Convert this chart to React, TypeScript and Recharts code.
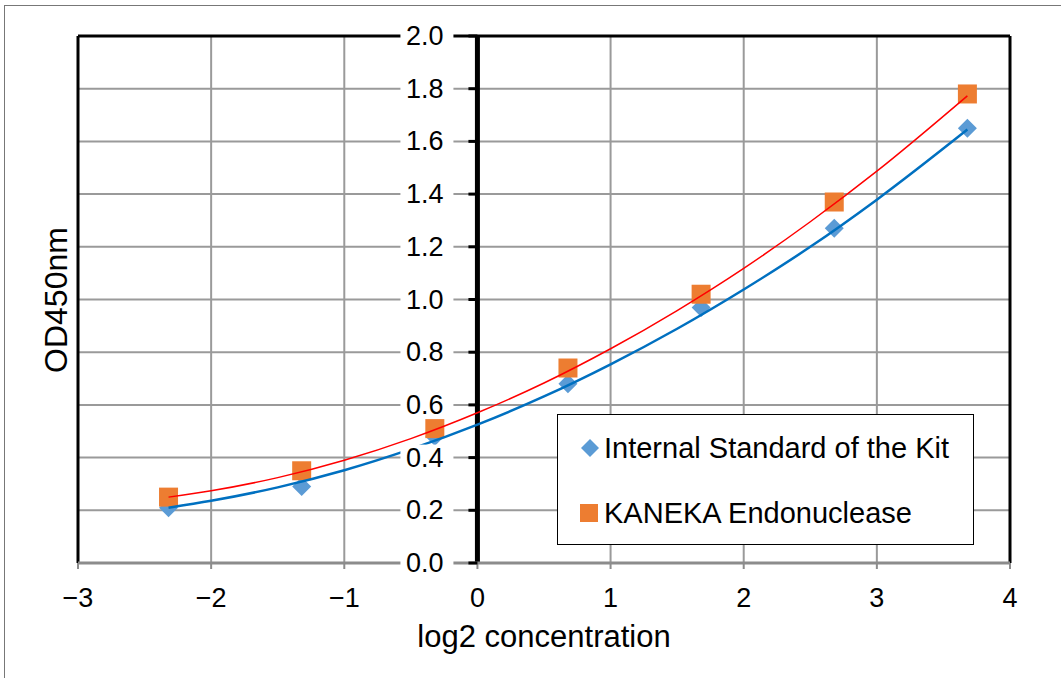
import {
  ScatterChart,
  Scatter,
  XAxis,
  YAxis,
  CartesianGrid,
  ReferenceLine,
  ReferenceDot,
  Legend,
} from "recharts";

const FONT = '"Liberation Sans", Arial, Helvetica, sans-serif';

// log2 of concentration (0.2 ... 12.8)
const concentrations = [-2.32, -1.32, -0.32, 0.68, 1.68, 2.68, 3.68];
const internalStandard = [0.21, 0.29, 0.48, 0.68, 0.97, 1.27, 1.65];
const kanekaEndonuclease = [0.25, 0.35, 0.51, 0.74, 1.02, 1.37, 1.78];

// polynomial trendlines
const trendX = [-2.32, -2, -1.5, -1, -0.5, 0, 0.5, 1, 1.5, 2, 2.5, 3, 3.68];
const internalTrend = [0.21, 0.236, 0.287, 0.352, 0.432, 0.525, 0.632, 0.754, 0.889, 1.038, 1.2, 1.379, 1.645];
const kanekaTrend = [0.25, 0.274, 0.324, 0.39, 0.472, 0.57, 0.683, 0.813, 0.958, 1.118, 1.295, 1.487, 1.773];

const xTicks = [-3, -2, -1, 0, 1, 2, 3, 4];
const yTicks = [0, 0.2, 0.4, 0.6, 0.8, 1.0, 1.2, 1.4, 1.6, 1.8, 2.0];

const BLUE = "#5B9BD5";
const ORANGE = "#ED7D31";
const BLUE_TREND = "#0070C0";
const RED_TREND = "#FF0000";
const GRID = "#9a9a9a";

const toPoints = (xs: number[], ys: number[]) => xs.map((x, i) => ({ x, y: ys[i] }));

const Diamond = (props: any) => {
  const { cx, cy } = props;
  const r = 9.5;
  return <polygon points={`${cx},${cy - r} ${cx + r},${cy} ${cx},${cy + r} ${cx - r},${cy}`} fill={BLUE} />;
};

const Square = (props: any) => {
  const { cx, cy } = props;
  return <rect x={cx - 9.5} y={cy - 9.5} width={19} height={19} fill={ORANGE} />;
};

const NoShape = () => <g />;

function YTick({ cx, cy, text }: { cx: number; cy: number; text: string }) {
  return (
    <g>
      <rect x={cx - 77} y={cy - 13} width={53} height={26} fill="#fff" />
      <line x1={cx - 9} x2={cx} y1={cy} y2={cy} stroke="#000" strokeWidth={3} />
      <text
        x={cx - 34}
        y={cy}
        textAnchor="end"
        dominantBaseline="central"
        fontSize={27}
        fontFamily={FONT}
        fill="#000"
      >
        {text}
      </text>
    </g>
  );
}

function LegendBox() {
  const rows = [
    { name: "Internal Standard of the Kit", marker: "diamond", top: 33 },
    { name: "KANEKA Endonuclease", marker: "square", top: 98 },
  ];
  return (
    <div
      style={{
        position: "relative",
        width: 417,
        height: 131,
        boxSizing: "border-box",
        border: "1.5px solid #000",
        background: "#fff",
        fontFamily: FONT,
        fontSize: 29,
        color: "#000",
      }}
    >
      {rows.map((r) => (
        <div
          key={r.name}
          style={{ position: "absolute", left: 20, top: r.top - 18, height: 36, display: "flex", alignItems: "center" }}
        >
          <svg width={24} height={24} style={{ marginRight: 2 }}>
            {r.marker === "diamond" ? (
              <polygon points="12,3 21,12 12,21 3,12" fill={BLUE} />
            ) : (
              <rect x={2} y={3} width={18} height={18} fill={ORANGE} />
            )}
          </svg>
          <span style={{ whiteSpace: "nowrap" }}>{r.name}</span>
        </div>
      ))}
    </div>
  );
}

const formatX = (v: number) => (v < 0 ? `\u2212${Math.abs(v)}` : `${v}`);

export default function App() {
  return (
    <div
      style={{
        position: "fixed",
        left: 0,
        top: 0,
        width: 1061,
        height: 678,
        overflow: "hidden",
        background: "#fff",
        fontFamily: FONT,
      }}
    >
      <div
        style={{
          position: "absolute",
          left: 4,
          top: 5,
          width: 1100,
          height: 720,
          border: "1.5px solid #777",
        }}
      />
      <div style={{ position: "absolute", left: 0, top: 0 }}>
        <ScatterChart
          width={1061}
          height={678}
          margin={{ top: 36, right: 51, bottom: 35, left: 78 }}
          style={{ fontFamily: FONT }}
        >
          <CartesianGrid stroke={GRID} strokeWidth={2} horizontal={false} />
          <XAxis
            type="number"
            dataKey="x"
            domain={[-3, 4]}
            ticks={xTicks}
            allowDataOverflow
            height={80}
            tickFormatter={formatX}
            tick={{ fontSize: 27, fill: "#000", fontFamily: FONT }}
            tickSize={6}
            tickMargin={19}
            axisLine={{ stroke: "#8c8c8c", strokeWidth: 3 }}
            tickLine={{ stroke: "#8c8c8c", strokeWidth: 2 }}
            label={{
              value: "log2 concentration",
              position: "insideBottom",
              offset: -4,
              fontSize: 31,
              fill: "#000",
              fontFamily: FONT,
            }}
          />
          <YAxis
            type="number"
            dataKey="y"
            domain={[0, 2]}
            ticks={yTicks}
            allowDataOverflow
            width={0}
            tick={false}
            tickLine={false}
            axisLine={false}
          />
          <Legend
            layout="vertical"
            align="center"
            verticalAlign="middle"
            wrapperStyle={{ left: 557, top: 414, width: 417, height: 131 }}
            content={() => <LegendBox />}
          />
          {yTicks.slice(1, -1).map((v) => (
            <ReferenceLine key={`g${v}`} y={v} stroke={GRID} strokeWidth={2} />
          ))}
          <ReferenceLine y={2} stroke="#000" strokeWidth={3} />
          <ReferenceLine x={-3} stroke="#000" strokeWidth={3} />
          <ReferenceLine x={4} stroke="#000" strokeWidth={3} />
          <Scatter
            name="Internal Standard of the Kit"
            data={toPoints(concentrations, internalStandard)}
            shape={Diamond}
            isAnimationActive={false}
          />
          <Scatter
            name="KANEKA Endonuclease"
            data={toPoints(concentrations, kanekaEndonuclease)}
            shape={Square}
            isAnimationActive={false}
          />
          <Scatter
            name="Internal trend"
            data={toPoints(trendX, internalTrend)}
            line={{ stroke: BLUE_TREND, strokeWidth: 2.5 }}
            lineJointType="monotoneX"
            shape={NoShape}
            legendType="none"
            isAnimationActive={false}
          />
          <Scatter
            name="KANEKA trend"
            data={toPoints(trendX, kanekaTrend)}
            line={{ stroke: RED_TREND, strokeWidth: 1.5 }}
            lineJointType="monotoneX"
            shape={NoShape}
            legendType="none"
            isAnimationActive={false}
          />
          <ReferenceLine x={0} stroke="#000" strokeWidth={5} />
          {yTicks.map((v) => (
            <ReferenceDot
              key={v}
              x={0}
              y={v}
              r={0}
              zIndex={2100}
              shape={(p: any) => <YTick cx={p.cx} cy={p.cy} text={v.toFixed(1)} />}
            />
          ))}
        </ScatterChart>
      </div>
      <div
        style={{
          position: "absolute",
          left: 56,
          top: 300,
          transform: "translate(-50%, -50%) rotate(-90deg)",
          fontSize: 32,
          lineHeight: "36px",
          whiteSpace: "nowrap",
          color: "#000",
        }}
      >
        OD450nm
      </div>
    </div>
  );
}
